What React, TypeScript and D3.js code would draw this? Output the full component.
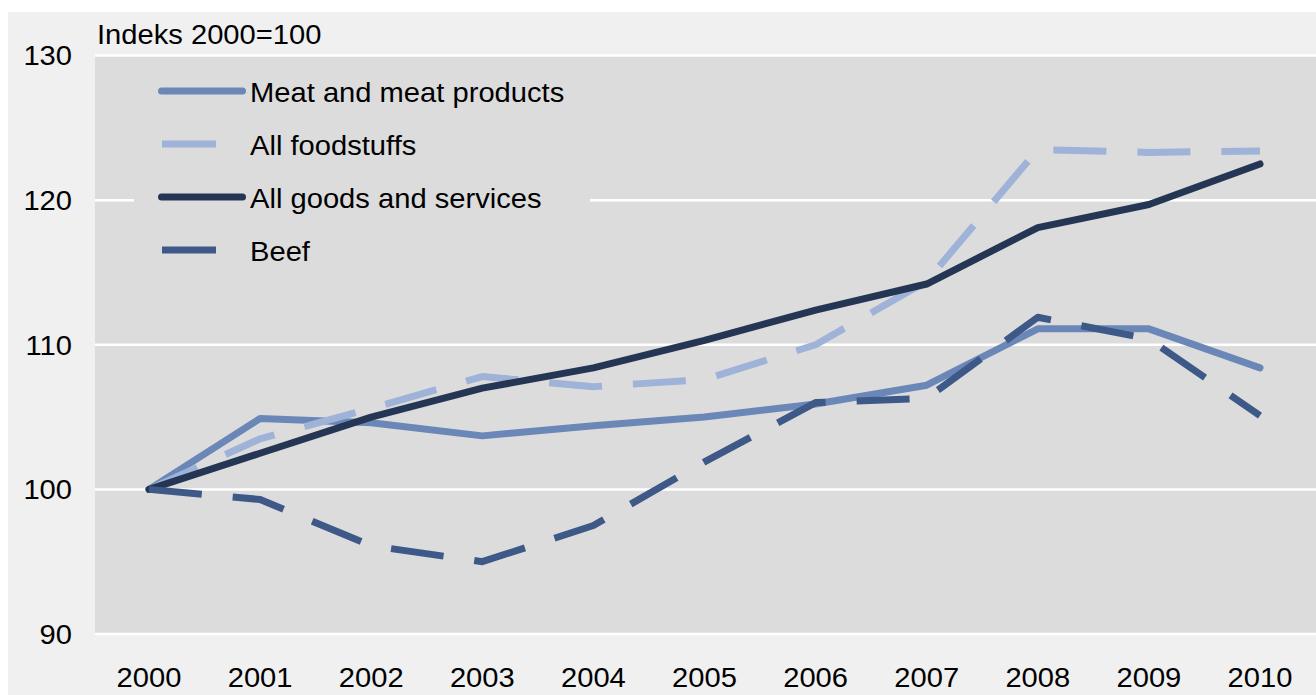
import { useMemo } from 'react';
import * as d3 from 'd3';

const years = [2000, 2001, 2002, 2003, 2004, 2005, 2006, 2007, 2008, 2009, 2010];
const meatValues = [100, 104.9, 104.6, 103.7, 104.4, 105.0, 105.9, 107.2, 111.1, 111.1, 108.4];
const foodValues = [100, 103.5, 105.6, 107.8, 107.1, 107.6, 110.0, 114.4, 123.5, 123.3, 123.4];
const allGoodsValues = [100, 102.5, 105.0, 107.0, 108.4, 110.3, 112.4, 114.2, 118.1, 119.7, 122.5];
const beefValues = [100, 99.3, 96.1, 95.0, 97.5, 101.9, 106.0, 106.3, 111.9, 110.4, 105.1];
const yTicks = [90, 100, 110, 120, 130];

interface Series {
  name: string;
  values: number[];
  color: string;
  dashed: boolean;
}

const series: Series[] = [
  { name: 'Meat and meat products', values: meatValues, color: '#6a87b8', dashed: false },
  { name: 'All foodstuffs', values: foodValues, color: '#9fb2d7', dashed: true },
  { name: 'All goods and services', values: allGoodsValues, color: '#253655', dashed: false },
  { name: 'Beef', values: beefValues, color: '#3e5988', dashed: true },
];

const width = 1316;
const height = 695;
const font = "'Liberation Sans', Arial, sans-serif";
const fontSize = 27.5;
// the original text is drawn a little wider than Arial
const stretch = 1.06;

function Label({
  x,
  y,
  anchor = 'start',
  children,
}: {
  x: number;
  y: number;
  anchor?: 'start' | 'middle' | 'end';
  children: React.ReactNode;
}) {
  return (
    <text
      transform={`translate(${x},${y}) scale(${stretch},1)`}
      textAnchor={anchor}
      fontFamily={font}
      fontSize={fontSize}
      fill="#000"
    >
      {children}
    </text>
  );
}

export default function App() {
  const plot = { left: 95, right: width, top: 55.5, bottom: 634 };

  const x = useMemo(
    () => d3.scaleLinear().domain([2000, 2010]).range([149, 1260]),
    []
  );
  const y = useMemo(
    () => d3.scaleLinear().domain([90, 130]).range([plot.bottom, plot.top]),
    [plot.bottom, plot.top]
  );

  const line = d3
    .line<number>()
    .x((_, i) => x(years[i]))
    .y((v) => y(v));

  const legend = { left: 134, right: 590, top: 68, rowStart: 91, rowGap: 53 };

  return (
    <div style={{ position: 'fixed', left: 0, top: 0 }}>
      <svg width={width} height={height} style={{ display: 'block', background: '#ffffff' }}>
        <rect x={8} y={12} width={width - 8} height={height - 12} fill="#f0f0f0" />
        <rect
          x={plot.left}
          y={plot.top}
          width={plot.right - plot.left}
          height={plot.bottom - plot.top}
          fill="#dcdcdc"
        />
        {yTicks.map((t) => (
          <g key={t}>
            <line
              x1={plot.left}
              x2={plot.right}
              y1={y(t)}
              y2={y(t)}
              stroke="#ffffff"
              strokeWidth={2.5}
            />
            <Label x={72} y={y(t) + 9.8} anchor="end">
              {t}
            </Label>
          </g>
        ))}
        <Label x={97} y={44}>
          Indeks 2000=100
        </Label>
        {years.map((yr) => (
          <Label key={yr} x={x(yr)} y={687} anchor="middle">
            {yr}
          </Label>
        ))}

        {/* legend box hides the 120 gridline behind it */}
        <rect
          x={legend.left}
          y={legend.top}
          width={legend.right - legend.left}
          height={210}
          fill="#dcdcdc"
        />

        {series.map((s) => (
          <path
            key={s.name}
            d={line(s.values) ?? ''}
            fill="none"
            stroke={s.color}
            strokeWidth={7}
            strokeDasharray={s.dashed ? '53 31' : undefined}
            strokeLinecap={s.dashed ? 'butt' : 'round'}
            strokeLinejoin="round"
          />
        ))}

        {series.map((s, i) => {
          const ry = legend.rowStart + i * legend.rowGap;
          return (
            <g key={s.name}>
              <line
                x1={s.dashed ? 162 : 161.5}
                x2={s.dashed ? 216 : 242.5}
                y1={ry}
                y2={ry}
                stroke={s.color}
                strokeWidth={7}
                strokeLinecap={s.dashed ? 'butt' : 'round'}
              />
              <Label x={250} y={ry + 11}>
                {s.name}
              </Label>
            </g>
          );
        })}
      </svg>
    </div>
  );
}
